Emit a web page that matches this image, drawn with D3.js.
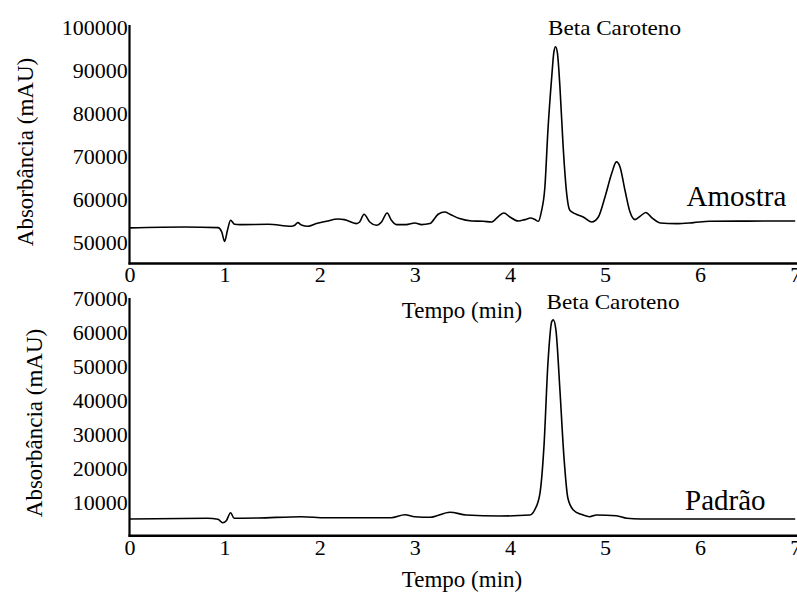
<!DOCTYPE html>
<html>
<head>
<meta charset="utf-8">
<script src="https://cdn.jsdelivr.net/npm/d3@7"></script>
<style>
  html, body { margin: 0; padding: 0; background: #fff; }
  svg { display: block; font-family: "Liberation Serif", "Times New Roman", serif; }
</style>
</head>
<body>
<svg id="chart" width="797" height="595"></svg>
<script>
// ---------- DATA ----------
const timeTicks = [0, 1, 2, 3, 4, 5, 6, 7];
const amostraYTicks = [50000, 60000, 70000, 80000, 90000, 100000];
const padraoYTicks = [10000, 20000, 30000, 40000, 50000, 60000, 70000];

const amostraTime = [0, 0.58, 0.93, 0.97, 1.0, 1.03, 1.063, 1.105, 1.16, 1.46, 1.70, 1.737, 1.77, 1.807, 1.877,
  1.965, 2.07, 2.19, 2.26, 2.386, 2.42, 2.466, 2.526, 2.597, 2.65, 2.709, 2.754, 2.807, 2.91, 3.0, 3.07,
  3.158, 3.245, 3.316, 3.37, 3.47, 3.6, 3.72, 3.81, 3.88, 3.937, 4.0, 4.088, 4.158, 4.218, 4.263, 4.30,
  4.33, 4.368, 4.40, 4.44, 4.463, 4.48, 4.50, 4.526, 4.56, 4.597, 4.63, 4.684, 4.77, 4.86, 4.93, 5.0,
  5.07, 5.12, 5.158, 5.21, 5.263, 5.316, 5.368, 5.43, 5.49, 5.58, 5.75, 5.93, 6.1, 6.5, 7.0];
const amostraAbs = [53300, 53500, 53360, 52330, 50160, 52730, 55070, 54130, 54060, 54130, 53670, 53900, 54530, 53970, 53670,
  54300, 54830, 55370, 55230, 54300, 54670, 56470, 54670, 53900, 54670, 56770, 55070, 54060, 54060, 54440, 54060,
  54300, 56470, 57000, 56470, 55460, 54900, 54830, 54670, 56000, 56770, 55840, 54900, 55230, 55600, 55230, 54830,
  57000, 62840, 76080, 88520, 94360, 95530, 93990, 86190, 72180, 61300, 57400, 56630, 55840, 54670, 55840, 60510,
  65970, 68680, 67510, 62070, 57000, 55230, 56000, 56900, 55700, 54440, 54300, 54530, 54830, 54880, 54900];

const padraoTime = [0, 0.82, 0.93, 0.98, 1.018, 1.063, 1.1, 1.35, 1.81, 2.06, 2.75, 2.895, 3.0, 3.16, 3.37, 3.54,
  3.895, 4.21, 4.26, 4.316, 4.358, 4.40, 4.44, 4.456, 4.484, 4.526, 4.568, 4.61, 4.667, 4.75, 4.84, 4.91,
  5.12, 5.23, 5.37, 7.0];
const padraoAbs = [4970, 5170, 4880, 3870, 4460, 6830, 5170, 5260, 5650, 5350, 5350, 6240, 5650, 5470, 6950, 6150,
  5850, 6150, 7630, 12560, 26340, 51000, 63300, 63800, 60800, 43100, 23400, 11090, 7630, 6350, 5650, 6150,
  5940, 5170, 4970, 4970];

const xLabel = "Tempo (min)";
const yLabel = "Absorbância (mAU)";
const peakLabel = "Beta Caroteno";
const amostraName = "Amostra";
const padraoName = "Padrão";

// ---------- LAYOUT ----------
const svg = d3.select("#chart");
const X0 = 129.5, X1 = 795.2;
const x = d3.scaleLinear().domain([0, 7]).range([X0, X1]);

const panels = [
  { time: amostraTime, abs: amostraAbs, yTicks: amostraYTicks, domain: [45000, 100000], range: [263.5, 27.5],
    axisTop: 25, xLabY: 3, yLabX: 33, yLabY: 152, tempoY: 317.5,
    peak: { x: 614.5, y: 35 }, name: amostraName, nameX: 686.5, nameY: 206 },
  { time: padraoTime, abs: padraoAbs, yTicks: padraoYTicks, domain: [0, 70000], range: [535.8, 298.9],
    axisTop: 298, xLabY: 4, yLabX: 42, yLabY: 423, tempoY: 587,
    peak: { x: 613, y: 308.5 }, name: padraoName, nameX: 685, nameY: 510 }
];

panels.forEach(p => {
  const y = d3.scaleLinear().domain(p.domain).range(p.range);
  const g = svg.append("g");
  const axisY = p.range[0];

  // y axis labels
  const ya = g.append("g").attr("transform", `translate(${X0},0)`)
    .call(d3.axisLeft(y).tickValues(p.yTicks).tickSize(0).tickPadding(1.8).tickFormat(d3.format("d")));
  ya.select(".domain").remove();
  ya.selectAll("text").attr("font-size", 22).attr("font-family", "Liberation Serif").attr("fill", "#000");

  // x axis labels
  const xa = g.append("g").attr("transform", `translate(0,${axisY})`)
    .call(d3.axisBottom(x).tickValues(timeTicks).tickSize(0).tickPadding(p.xLabY).tickFormat(d3.format("d")));
  xa.select(".domain").remove();
  xa.selectAll("text").attr("font-size", 22).attr("font-family", "Liberation Serif").attr("fill", "#000");

  // axis lines
  g.append("line").attr("x1", X0).attr("x2", X0).attr("y1", p.axisTop).attr("y2", axisY + 1)
    .attr("stroke", "#000").attr("stroke-width", 2.2);
  g.append("line").attr("x1", X0 - 1).attr("x2", 797).attr("y1", axisY).attr("y2", axisY)
    .attr("stroke", "#000").attr("stroke-width", 2.6);

  // trace
  const pts = p.time.map((t, i) => [t, p.abs[i]]);
  g.append("path").datum(pts)
    .attr("fill", "none").attr("stroke", "#000").attr("stroke-width", 1.6)
    .attr("stroke-linejoin", "round")
    .attr("d", d3.line().x(d => x(d[0])).y(d => y(d[1])).curve(d3.curveMonotoneX));

  // labels
  g.append("text").attr("x", p.peak.x).attr("y", p.peak.y).attr("text-anchor", "middle")
    .attr("font-size", 21.5).attr("textLength", 133).attr("lengthAdjust", "spacingAndGlyphs").text(peakLabel);
  g.append("text").attr("x", p.nameX).attr("y", p.nameY).attr("font-size", 29).text(p.name);
  g.append("text").attr("x", 462).attr("y", p.tempoY).attr("text-anchor", "middle")
    .attr("font-size", 23).text(xLabel);
  g.append("text").attr("transform", `translate(${p.yLabX},${p.yLabY}) rotate(-90)`)
    .attr("text-anchor", "middle").attr("font-size", 23).text(yLabel);
});
</script>
</body>
</html>
